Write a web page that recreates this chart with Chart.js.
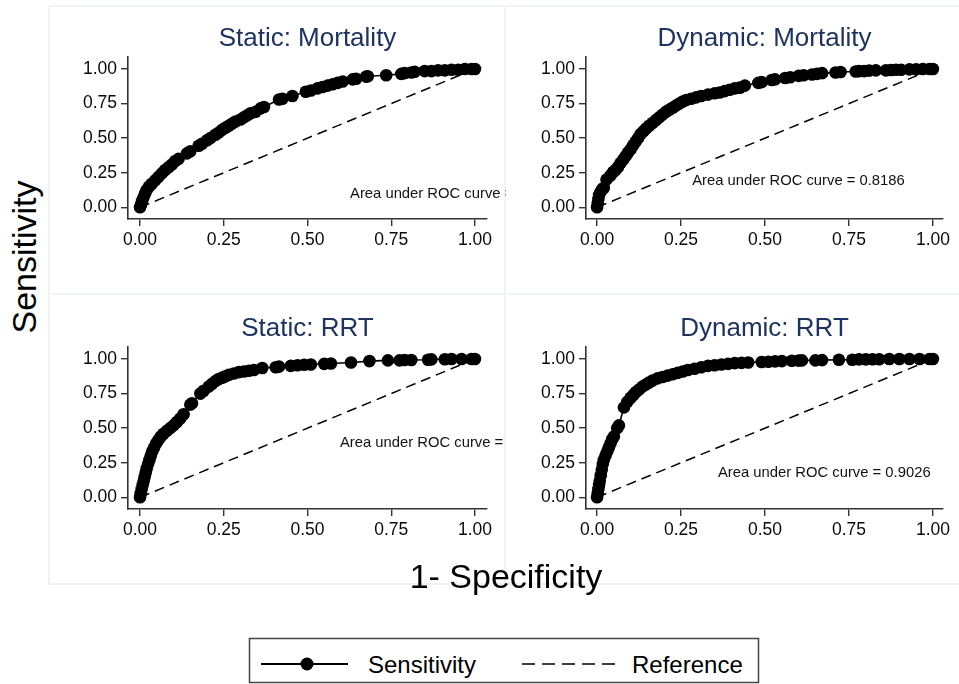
<!DOCTYPE html>
<html>
<head>
<meta charset="utf-8">
<script src="https://cdn.jsdelivr.net/npm/chart.js@4"></script>
<style>
  body { margin: 0; background: #fff; }
  #fig { position: relative; width: 959px; height: 684px; overflow: hidden; background: #fff;
         font-family: "Liberation Sans", Arial, Helvetica, sans-serif; }
  .panel { position: absolute; box-sizing: border-box; border: 2px solid #eff2f6; }
  canvas { position: absolute; }
  .axis-title { position: absolute; font-size: 34px; line-height: 1; white-space: nowrap; color: #000; }
</style>
</head>
<body>
<div id="fig">
  <div class="panel" style="left:48px;top:5px;width:458px;height:290px"></div>
  <div class="panel" style="left:504px;top:5px;width:470px;height:290px"></div>
  <div class="panel" style="left:48px;top:293px;width:458px;height:292px"></div>
  <div class="panel" style="left:504px;top:293px;width:470px;height:292px"></div>

  <canvas id="c1" width="457" height="289" style="left:49px;top:6px"></canvas>
  <canvas id="c2" width="453" height="289" style="left:506px;top:6px"></canvas>
  <canvas id="c3" width="457" height="289" style="left:49px;top:296px"></canvas>
  <canvas id="c4" width="453" height="289" style="left:506px;top:296px"></canvas>

  <div class="axis-title" style="left:24px;top:257px;transform:translate(-50%,-50%) rotate(-90deg)">Sensitivity</div>
  <div class="axis-title" style="left:506px;top:576px;transform:translate(-50%,-50%)">1- Specificity</div>

  <svg style="position:absolute;left:240px;top:630px" width="530" height="54">
    <rect x="9.5" y="8.5" width="509" height="44" fill="none" stroke="#444" stroke-width="1.5"/>
    <line x1="21" y1="34" x2="108" y2="34" stroke="#000" stroke-width="2"/>
    <circle cx="67" cy="34" r="6.5" fill="#000"/>
    <text x="128" y="42.5" font-size="24" font-family="Liberation Sans, Arial, sans-serif">Sensitivity</text>
    <line x1="282" y1="34" x2="375" y2="34" stroke="#000" stroke-width="1.6" stroke-dasharray="13 7"/>
    <text x="392" y="42.5" font-size="24" font-family="Liberation Sans, Arial, sans-serif">Reference</text>
  </svg>
</div>

<script>
const tickValues = [0, 0.25, 0.5, 0.75, 1];
const panelTitles = ['Static: Mortality', 'Dynamic: Mortality', 'Static: RRT', 'Dynamic: RRT'];
const aucLabels = ['Area under ROC curve =', 'Area under ROC curve = 0.8186',
                   'Area under ROC curve =', 'Area under ROC curve = 0.9026'];

// 1 - specificity / sensitivity
const staticMortFpr = [0, 0.003, 0.006, 0.01, 0.015, 0.02, 0.027, 0.035, 0.045, 0.055, 0.065, 0.075, 0.085, 0.095,
  0.105, 0.115, 0.14, 0.15, 0.175, 0.185, 0.2, 0.21, 0.225, 0.235, 0.245, 0.255, 0.265, 0.275, 0.285, 0.3, 0.31,
  0.32, 0.33, 0.345, 0.36, 0.37, 0.415, 0.425, 0.455, 0.495, 0.51, 0.53, 0.545, 0.56, 0.575, 0.59, 0.605, 0.635,
  0.645, 0.675, 0.68, 0.735, 0.78, 0.79, 0.81, 0.82, 0.85, 0.87, 0.89, 0.91, 0.93, 0.95, 0.97, 0.99, 1];
const staticMortSens = [0, 0.02, 0.045, 0.07, 0.1, 0.125, 0.15, 0.17, 0.195, 0.22, 0.245, 0.27, 0.29, 0.31,
  0.335, 0.35, 0.39, 0.405, 0.445, 0.46, 0.485, 0.5, 0.525, 0.54, 0.56, 0.575, 0.59, 0.605, 0.62, 0.635, 0.65,
  0.665, 0.68, 0.69, 0.715, 0.725, 0.78, 0.785, 0.805, 0.835, 0.845, 0.86, 0.87, 0.88, 0.89, 0.9, 0.91, 0.925,
  0.93, 0.945, 0.948, 0.955, 0.965, 0.97, 0.975, 0.98, 0.985, 0.985, 0.99, 0.99, 0.995, 0.995, 1, 1, 1];

const dynMortFpr = [0, 0.002, 0.004, 0.006, 0.01, 0.015, 0.02, 0.028, 0.04, 0.048, 0.055, 0.062, 0.07, 0.078,
  0.085, 0.092, 0.1, 0.108, 0.115, 0.122, 0.13, 0.138, 0.146, 0.155, 0.165, 0.175, 0.185, 0.195, 0.205, 0.215,
  0.225, 0.235, 0.245, 0.255, 0.265, 0.28, 0.295, 0.31, 0.33, 0.35, 0.365, 0.38, 0.395, 0.41, 0.425, 0.44, 0.48,
  0.49, 0.52, 0.53, 0.56, 0.575, 0.6, 0.615, 0.64, 0.655, 0.67, 0.71, 0.725, 0.77, 0.78, 0.795, 0.81, 0.83, 0.86,
  0.875, 0.89, 0.905, 0.93, 0.95, 0.97, 0.99, 1];
const dynMortSens = [0, 0.03, 0.06, 0.09, 0.11, 0.13, 0.14, 0.2, 0.23, 0.255, 0.27, 0.29, 0.32, 0.345,
  0.37, 0.395, 0.42, 0.45, 0.475, 0.5, 0.53, 0.55, 0.57, 0.59, 0.61, 0.63, 0.65, 0.67, 0.69, 0.705,
  0.72, 0.735, 0.75, 0.765, 0.775, 0.785, 0.795, 0.805, 0.815, 0.825, 0.83, 0.84, 0.85, 0.86, 0.865, 0.88, 0.9,
  0.905, 0.92, 0.925, 0.935, 0.94, 0.95, 0.955, 0.96, 0.965, 0.97, 0.975, 0.978, 0.982, 0.985, 0.985, 0.988, 0.99, 0.99,
  0.993, 0.995, 0.995, 0.997, 0.998, 1, 1, 1];

const staticRrtFpr = [0, 0.002, 0.005, 0.008, 0.011, 0.014, 0.017, 0.02, 0.024, 0.028, 0.032, 0.036, 0.042, 0.048,
  0.055, 0.062, 0.07, 0.08, 0.09, 0.1, 0.11, 0.12, 0.13, 0.15, 0.155, 0.18, 0.19, 0.205, 0.215, 0.225, 0.235, 0.245,
  0.255, 0.265, 0.28, 0.295, 0.31, 0.325, 0.34, 0.365, 0.405, 0.415, 0.45, 0.47, 0.49, 0.51, 0.55, 0.57, 0.63,
  0.685, 0.74, 0.775, 0.79, 0.81, 0.86, 0.87, 0.91, 0.93, 0.96, 0.99, 1];
const staticRrtSens = [0, 0.03, 0.06, 0.09, 0.12, 0.15, 0.18, 0.21, 0.24, 0.27, 0.3, 0.33, 0.36, 0.39,
  0.415, 0.44, 0.46, 0.48, 0.5, 0.52, 0.545, 0.57, 0.6, 0.67, 0.68, 0.75, 0.77, 0.8, 0.82, 0.84, 0.855, 0.865,
  0.875, 0.885, 0.895, 0.905, 0.91, 0.915, 0.92, 0.935, 0.94, 0.945, 0.95, 0.955, 0.958, 0.96, 0.965, 0.968, 0.975,
  0.985, 0.99, 0.99, 0.993, 0.993, 0.995, 0.997, 0.998, 1, 1, 1, 1];

const dynRrtFpr = [0, 0.002, 0.004, 0.006, 0.008, 0.011, 0.014, 0.017, 0.02, 0.025, 0.03, 0.035, 0.04, 0.045,
  0.05, 0.06, 0.065, 0.08, 0.09, 0.1, 0.108, 0.115, 0.125, 0.135, 0.145, 0.155, 0.165, 0.18, 0.195, 0.21, 0.225,
  0.24, 0.255, 0.27, 0.29, 0.31, 0.33, 0.35, 0.37, 0.39, 0.41, 0.43, 0.45, 0.49, 0.51, 0.53, 0.55, 0.58, 0.6,
  0.61, 0.65, 0.67, 0.72, 0.76, 0.78, 0.8, 0.82, 0.84, 0.87, 0.9, 0.93, 0.96, 0.99, 1];
const dynRrtSens = [0, 0.03, 0.06, 0.09, 0.12, 0.16, 0.2, 0.24, 0.27, 0.3, 0.33, 0.36, 0.39, 0.42,
  0.44, 0.5, 0.52, 0.65, 0.69, 0.72, 0.74, 0.76, 0.78, 0.8, 0.815, 0.83, 0.845, 0.86, 0.87, 0.88, 0.89,
  0.9, 0.91, 0.92, 0.93, 0.94, 0.95, 0.955, 0.96, 0.965, 0.97, 0.972, 0.975, 0.978, 0.98, 0.983, 0.985, 0.987, 0.988,
  0.99, 0.99, 0.992, 0.995, 0.995, 0.997, 0.997, 0.998, 0.998, 1, 1, 1, 1, 1, 1];

const refFpr = [0, 1];
const refSens = [0, 1];

const FONT = '"Liberation Sans", Arial, Helvetica, sans-serif';

function toPoints(xs, ys) {
  return xs.map((x, i) => ({ x: x, y: ys[i] }));
}

// draws the "Area under ROC curve" note at a data position, canvas edge clips it
const aucNote = {
  id: 'aucNote',
  afterDatasetsDraw(chart, args, opts) {
    const ctx = chart.ctx;
    const xs = chart.scales.x, ys = chart.scales.y;
    ctx.save();
    ctx.font = '14.8px ' + FONT;
    ctx.fillStyle = '#111';
    ctx.textBaseline = 'middle';
    ctx.textAlign = 'left';
    ctx.fillText(opts.text, xs.getPixelForValue(opts.at[0]), ys.getPixelForValue(opts.at[1]));
    ctx.restore();
  }
};

const panels = [
  { id: 'c1', fpr: staticMortFpr, sens: staticMortSens, at: [0.627, 0.096], yWidth: 79, padRight: 19, xMin: -0.036, xMax: 1.036 },
  { id: 'c2', fpr: dynMortFpr, sens: dynMortSens, at: [0.283, 0.19], yWidth: 80, padRight: 16, xMin: -0.033, xMax: 1.03 },
  { id: 'c3', fpr: staticRrtFpr, sens: staticRrtSens, at: [0.597, 0.39], yWidth: 79, padRight: 19, xMin: -0.036, xMax: 1.036 },
  { id: 'c4', fpr: dynRrtFpr, sens: dynRrtSens, at: [0.36, 0.174], yWidth: 80, padRight: 16, xMin: -0.033, xMax: 1.03 }
];

function axisOpts(min, max) {
  return {
    type: 'linear',
    min: min,
    max: max,
    afterBuildTicks: (scale) => { scale.ticks = tickValues.map(v => ({ value: v })); },
    ticks: {
      color: '#0a0a0a',
      font: { family: FONT, size: 17.5 },
      padding: 4,
      callback: (v) => Number(v).toFixed(2)
    },
    grid: { display: true, drawOnChartArea: false, drawTicks: true, tickLength: 7, color: '#333', lineWidth: 1.4 },
    border: { display: true, color: '#333', width: 1.6 }
  };
}

panels.forEach((p, i) => {
  const xAxis = axisOpts(p.xMin, p.xMax);
  xAxis.afterFit = (scale) => { scale.height = 76; };
  const yAxis = axisOpts(-0.0846, 1.0868);
  yAxis.afterFit = (scale) => { scale.width = p.yWidth; };

  new Chart(document.getElementById(p.id), {
    type: 'scatter',
    data: {
      datasets: [
        {
          label: 'Sensitivity',
          data: toPoints(p.fpr, p.sens),
          showLine: true,
          borderColor: '#000',
          borderWidth: 1.6,
          backgroundColor: '#000',
          pointRadius: 6.3,
          pointBorderWidth: 0,
          pointBackgroundColor: '#000'
        },
        {
          label: 'Reference',
          data: toPoints(refFpr, refSens),
          showLine: true,
          borderColor: '#000',
          borderWidth: 1.5,
          borderDash: [10, 6],
          pointRadius: 0
        }
      ]
    },
    options: {
      responsive: false,
      animation: false,
      devicePixelRatio: 1,
      layout: { padding: { left: 0, right: p.padRight, top: 0, bottom: 0 } },
      scales: { x: xAxis, y: yAxis },
      plugins: {
        legend: { display: false },
        tooltip: { enabled: false },
        title: {
          display: true,
          text: panelTitles[i],
          color: '#1e3360',
          fullSize: false,
          font: { family: FONT, size: 26, weight: 'normal' },
          padding: { top: 17.4, bottom: 2.4 }
        },
        aucNote: { text: aucLabels[i], at: p.at }
      }
    },
    plugins: [aucNote]
  });
});
</script>
</body>
</html>
